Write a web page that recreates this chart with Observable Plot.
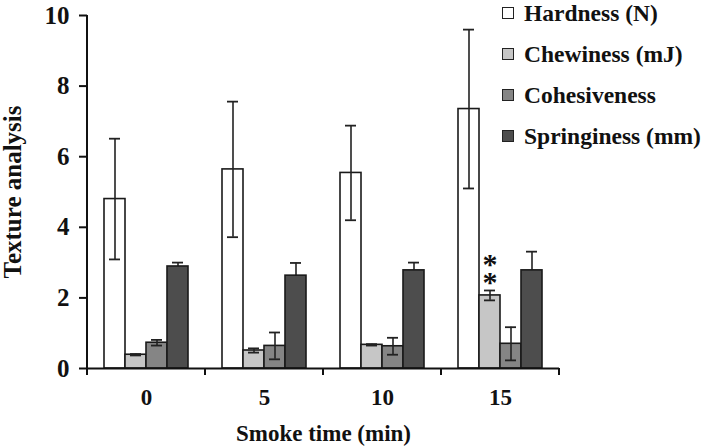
<!DOCTYPE html>
<html>
<head>
<meta charset="utf-8">
<script src="https://cdn.jsdelivr.net/npm/d3@7"></script>
<script src="https://cdn.jsdelivr.net/npm/@observablehq/plot@0.6"></script>
<style>
  html, body { margin: 0; padding: 0; background: #fff; }
  #wrap { position: relative; width: 709px; height: 446px; font-family: "Liberation Serif", "DejaVu Serif", serif; }
  #legend { position: absolute; left: 502px; top: 0; }
  .row { position: absolute; left: 0; display: flex; align-items: center; white-space: nowrap; font-weight: bold; font-size: 23.5px; line-height: 24px; color: #111; height: 24px; }
  .sw { width: 10px; height: 10px; border: 1.5px solid #222; margin-right: 10px; box-sizing: content-box; }
</style>
</head>
<body>
<div id="wrap"><div id="legend"></div></div>
<script>
const times = ["0", "5", "10", "15"];
const metrics = ["Hardness (N)", "Chewiness (mJ)", "Cohesiveness", "Springiness (mm)"];
const hardness = [4.80, 5.64, 5.54, 7.35];
const hardnessSD = [1.71, 1.92, 1.34, 2.25];
const chewiness = [0.39, 0.51, 0.67, 2.07];
const chewinessSD = [0.02, 0.06, 0.02, 0.14];
const cohesiveness = [0.73, 0.64, 0.63, 0.70];
const cohesivenessSD = [0.08, 0.38, 0.24, 0.47];
const springiness = [2.89, 2.63, 2.78, 2.78];
const springinessSD = [0.11, 0.36, 0.22, 0.53];
const colors = ["#ffffff", "#c6c6c6", "#858585", "#4d4d4d"];
const yTicks = [0, 2, 4, 6, 8, 10];
const significance = [{time: "15", metric: "Chewiness (mJ)", label: "*\n*"}];

const series = [[hardness, hardnessSD], [chewiness, chewinessSD], [cohesiveness, cohesivenessSD], [springiness, springinessSD]];
const data = [];
times.forEach((t, i) => metrics.forEach((m, j) => {
  data.push({time: t, metric: m, value: series[j][0][i], sd: series[j][1][i]});
}));
const sigData = significance.map(d => {
  const r = data.find(e => e.time === d.time && e.metric === d.metric);
  return {...d, y: r.value + r.sd};
});
const isSpring = d => d.metric === metrics[3];
const notSpring = d => d.metric !== metrics[3];

const chart = Plot.plot({
  width: 709,
  height: 446,
  marginLeft: 86,
  marginRight: 149,
  marginTop: 15,
  marginBottom: 78,
  style: {fontFamily: "'Liberation Serif', 'DejaVu Serif', serif", fontWeight: "bold", fontSize: "22px", color: "#111", background: "#fff"},
  fx: {domain: times, padding: 0},
  x: {domain: metrics, paddingInner: 0, paddingOuter: 0.71},
  y: {domain: [0, 10]},
  color: {domain: metrics, range: colors},
  marks: [
    Plot.ruleX(data.filter(isSpring), {fx: "time", x: "metric", y1: d => d.value - d.sd, y2: d => d.value + d.sd, stroke: "#222", strokeWidth: 1.6}),
    Plot.barY(data, {fx: "time", x: "metric", y: "value", fill: "metric", stroke: "#1a1a1a", strokeWidth: 1.6}),
    Plot.ruleX(data.filter(notSpring), {fx: "time", x: "metric", y1: d => d.value - d.sd, y2: d => d.value + d.sd, stroke: "#222", strokeWidth: 1.6}),
    Plot.tickY(data, {fx: "time", x: "metric", y: d => d.value + d.sd, stroke: "#222", strokeWidth: 1.8, insetLeft: 5, insetRight: 5}),
    Plot.tickY(data.filter(notSpring), {fx: "time", x: "metric", y: d => d.value - d.sd, stroke: "#222", strokeWidth: 1.8, insetLeft: 5, insetRight: 5}),
    Plot.text(sigData, {fx: "time", x: "metric", y: "y", text: "label", lineAnchor: "bottom", lineHeight: 0.6, fontSize: 30, dy: 2, fill: "#111"}),
    Plot.ruleY([0], {stroke: "#111", strokeWidth: 2}),
    Plot.axisX({ticks: [], label: null}),
    Plot.axisY(yTicks, {tickSize: 8, tickPadding: 10, strokeWidth: 2, label: "Texture analysis", labelAnchor: "center", labelOffset: 84, labelArrow: "none", fontSize: 25}),
    Plot.axisFx({anchor: "bottom", tickSize: 0, tickPadding: 20, label: "Smoke time (min)", labelAnchor: "center", labelOffset: 72, labelArrow: "none", fontSize: 23})
  ]
});
document.getElementById("wrap").prepend(chart);

// y axis line and x-axis boundary ticks from the library's scales
const svg = d3.select(chart);
const fx = chart.scale("fx");
const ys = chart.scale("y");
const y0 = ys.apply(0), y10 = ys.apply(10);
const left = fx.apply(times[0]);
svg.append("line").attr("x1", left).attr("x2", left).attr("y1", y10).attr("y2", y0 + 1).attr("stroke", "#111").attr("stroke-width", 2);
const edges = times.map(t => fx.apply(t)).concat([fx.apply(times[times.length - 1]) + fx.bandwidth]);
edges.forEach(e => svg.append("line").attr("x1", e).attr("x2", e).attr("y1", y0).attr("y2", y0 + 7).attr("stroke", "#111").attr("stroke-width", 2));

// legend
const legend = document.getElementById("legend");
metrics.forEach((m, i) => {
  const row = document.createElement("div");
  row.className = "row";
  row.style.top = (12.5 + i * 41.2 - 12) + "px";
  const sw = document.createElement("div");
  sw.className = "sw";
  sw.style.background = colors[i];
  const tx = document.createElement("span");
  tx.textContent = m;
  row.append(sw, tx);
  legend.append(row);
});
</script>
</body>
</html>
